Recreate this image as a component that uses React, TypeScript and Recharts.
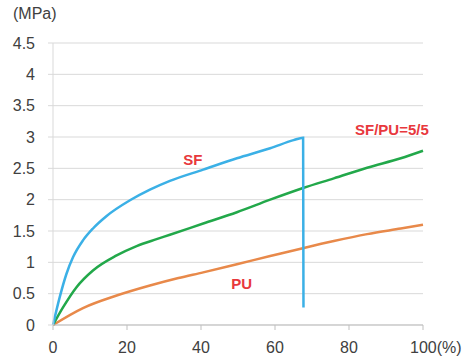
import React from 'react';
import {
  LineChart,
  Line,
  XAxis,
  YAxis,
  CartesianGrid,
  ReferenceDot
} from 'recharts';

// strain (%) and stress (MPa)
const sfStrain = [0, 1.8, 3.6, 5.4, 8.1, 10.8, 14.5, 20.8, 26.2, 31.6, 40.6, 49.7, 58.7, 65, 67.6, 67.7];
const sfStress = [0, 0.44, 0.81, 1.08, 1.35, 1.54, 1.74, 1.99, 2.16, 2.3, 2.48, 2.66, 2.82, 2.95, 2.99, 0.28];

const blendStrain = [0, 2.7, 6.3, 10.8, 17.2, 22.6, 28, 31.6, 40.6, 49.7, 58.7, 67.8, 75.9, 84.9, 94, 100];
const blendStress = [0, 0.28, 0.6, 0.87, 1.11, 1.26, 1.37, 1.44, 1.62, 1.8, 2.0, 2.19, 2.34, 2.51, 2.66, 2.78];

const puStrain = [0, 8.1, 17.2, 26.2, 33.9, 40.6, 49.7, 58.7, 67.8, 75.9, 84.9, 94, 100];
const puStress = [0, 0.27, 0.47, 0.63, 0.75, 0.84, 0.97, 1.1, 1.23, 1.34, 1.45, 1.54, 1.6];

const xTicks = [0, 20, 40, 60, 80, 100];
const yTicks = [0, 0.5, 1, 1.5, 2, 2.5, 3, 3.5, 4, 4.5];

const toPoints = (xs: number[], ys: number[]) => xs.map((x, i) => ({ x, y: ys[i] }));

const sfData = toPoints(sfStrain, sfStress);
const blendData = toPoints(blendStrain, blendStress);
const puData = toPoints(puStrain, puStress);

const FONT = 'Liberation Sans, Arial, sans-serif';
const LABEL_RED = '#e8383d';

const XTick = (props: any) => {
  const { x, y, payload } = props;
  if (payload.value === 100) {
    return (
      <text x={x - 13} y={y} dy="0.71em" textAnchor="start" fill="#404040" fontSize={16} fontFamily={FONT}>
        100(%)
      </text>
    );
  }
  return (
    <text x={x} y={y} dy="0.71em" textAnchor="middle" fill="#404040" fontSize={16} fontFamily={FONT}>
      {payload.value}
    </text>
  );
};

const seriesLabel = (value: string) => ({
  value,
  position: 'center' as const,
  fill: LABEL_RED,
  fontWeight: 'bold',
  fontSize: 15,
  fontFamily: FONT
});

const App: React.FC = () => {
  return (
    <div style={{ position: 'absolute', left: 0, top: 0, width: 468, height: 364, background: '#fff' }}>
      <span
        style={{ position: 'absolute', left: 13, top: 5, fontSize: 16, fontFamily: FONT, color: '#404040' }}
      >
        (MPa)
      </span>
      <LineChart width={468} height={364} margin={{ top: 43, right: 45, left: 0, bottom: 0 }}>
        <CartesianGrid vertical={false} stroke="#d9d9d9" />
        <XAxis
          type="number"
          dataKey="x"
          domain={[0, 100]}
          ticks={xTicks}
          height={39}
          stroke="#bfbfbf"
          tickSize={5}
          tickMargin={12}
          tick={<XTick />}
        />
        <YAxis
          type="number"
          dataKey="y"
          domain={[0, 4.5]}
          ticks={yTicks}
          width={53}
          stroke="#d9d9d9"
          tickSize={5}
          tickMargin={13}
          tick={{ fill: '#404040', fontSize: 16, fontFamily: FONT }}
        />
        <Line data={puData} dataKey="y" type="monotone" stroke="#e8894a" strokeWidth={2.5} dot={false} isAnimationActive={false} />
        <Line data={blendData} dataKey="y" type="monotone" stroke="#22a84a" strokeWidth={2.5} dot={false} isAnimationActive={false} />
        <Line data={sfData} dataKey="y" type="monotone" stroke="#3bb0e6" strokeWidth={2.5} dot={false} isAnimationActive={false} />
        <ReferenceDot x={37.8} y={2.64} r={0} fill="none" stroke="none" label={seriesLabel('SF')} />
        <ReferenceDot x={51} y={0.655} r={0} fill="none" stroke="none" label={seriesLabel('PU')} />
        <ReferenceDot x={91.6} y={3.12} r={0} fill="none" stroke="none" ifOverflow="visible" label={seriesLabel('SF/PU=5/5')} />
      </LineChart>
    </div>
  );
};

export default App;
